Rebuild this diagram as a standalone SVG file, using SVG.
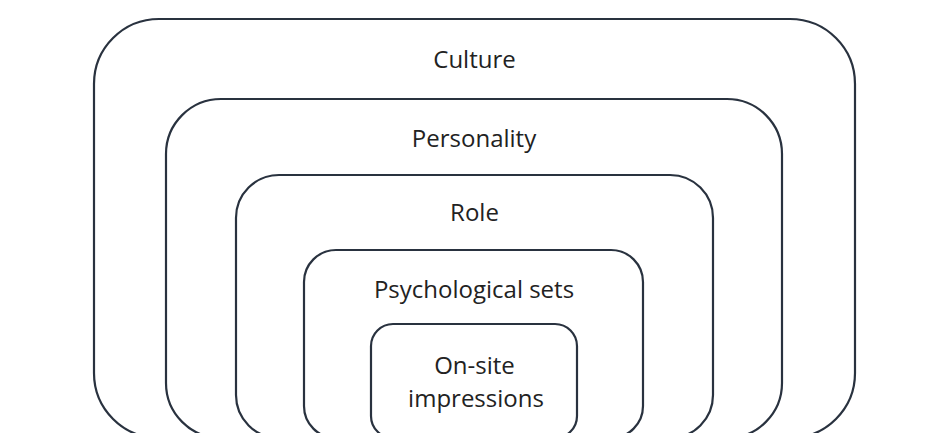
<svg xmlns="http://www.w3.org/2000/svg" width="930" height="433" viewBox="0 0 930 433">
  <style>
    .layer { fill: none; stroke: #29323f; stroke-width: 2.2; }
    .label { font-family: "Open Sans", "Noto Sans", sans-serif; font-size: 24px; fill: #222222; text-anchor: middle; }
  </style>
  <rect width="930" height="433" fill="#ffffff"/>
  <!-- nested layers, each running off the bottom edge -->
  <g id="culture">
    <rect class="layer" x="94" y="19" width="761" height="419" rx="65" ry="65"/>
    <text class="label" x="474.5" y="68">Culture</text>
  </g>
  <g id="personality">
    <rect class="layer" x="166" y="99" width="616" height="339" rx="55" ry="55"/>
    <text class="label" x="474" y="147">Personality</text>
  </g>
  <g id="role">
    <rect class="layer" x="236" y="175" width="477" height="263" rx="43" ry="43"/>
    <text class="label" x="474.5" y="221">Role</text>
  </g>
  <g id="psychological-sets">
    <rect class="layer" x="304" y="250" width="339" height="188" rx="32" ry="32"/>
    <text class="label" x="474" y="298">Psychological sets</text>
  </g>
  <g id="on-site-impressions">
    <rect class="layer" x="371" y="324" width="206" height="114" rx="22" ry="22"/>
    <text class="label" x="474.5" y="374">On-site</text>
    <text class="label" x="476" y="407">impressions</text>
  </g>
</svg>
